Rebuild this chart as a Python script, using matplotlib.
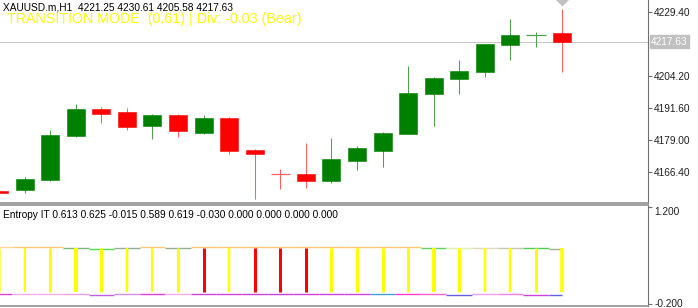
import numpy as np
import matplotlib
matplotlib.use("Agg")
import matplotlib.pyplot as plt

plt.rcParams['font.family'] = ['Liberation Sans', 'DejaVu Sans']

# ---- price data (H1 candles) ----
opens  = [4159.0, 4159.3, 4163.3, 4180.6, 4191.2, 4189.9, 4184.4, 4188.7, 4181.9, 4187.7,
          4175.1, 4165.6, 4165.5, 4163.0, 4170.6, 4174.7, 4181.5, 4197.2, 4202.9, 4205.8,
          4216.5, 4220.2, 4221.25]
highs  = [4159.6, 4164.3, 4182.9, 4193.2, 4192.1, 4191.7, 4189.2, 4189.1, 4188.8, 4188.2,
          4175.6, 4167.7, 4177.7, 4179.9, 4176.8, 4182.0, 4208.3, 4203.8, 4210.5, 4216.8,
          4226.6, 4221.4, 4230.61]
lows   = [4157.5, 4158.3, 4163.0, 4180.3, 4185.8, 4182.8, 4179.3, 4180.1, 4181.5, 4173.6,
          4155.7, 4159.8, 4160.2, 4162.0, 4167.1, 4168.4, 4181.3, 4184.6, 4197.2, 4203.9,
          4210.5, 4215.5, 4205.58]
closes = [4158.0, 4163.7, 4180.9, 4191.2, 4189.2, 4184.1, 4188.7, 4182.5, 4187.8, 4174.7,
          4173.4, 4165.5, 4163.0, 4171.4, 4175.9, 4181.8, 4197.5, 4203.5, 4206.1, 4216.7,
          4220.3, 4220.25, 4217.63]
last_price = 4217.63
price_ticks = [4229.40, 4204.20, 4191.60, 4179.00, 4166.40]

# ---- Entropy IT indicator ----
bar_top    = [0.615, 0.615, 0.615, 0.612, 0.612, 0.612, 0.615, 0.612, 0.615, 0.615,
              0.615, 0.615, 0.615, 0.615, 0.615, 0.615, 0.615, 0.612, 0.612, 0.612,
              0.61, 0.61, 0.61]
bar_bottom = [-0.03] * 23
bar_colors = ['#FFFF60', 'yellow', 'yellow', 'yellow', 'yellow', 'yellow', 'yellow', 'yellow',
              'red', 'yellow', 'red', 'red', 'red', 'yellow', 'yellow', 'yellow', 'yellow',
              'yellow', 'yellow', 'yellow', 'yellow', 'yellow', 'yellow']
bar_px = [3, 2, 3, 4, 3, 2.5, 2, 3, 3, 2.5, 3, 3, 3, 3, 3, 3, 3, 4, 3, 2.5, 2.5, 3, 3.5]
upper_vals = [0.62, 0.62, 0.62, 0.605, 0.60, 0.605, 0.62, 0.605, 0.62, 0.62,
              0.62, 0.62, 0.62, 0.62, 0.62, 0.62, 0.62, 0.605, 0.61, 0.61,
              0.61, 0.605, 0.60]
upper_colors = ['#FFD8A0', '#FFC878', '#FFC878', '#78B878', '#50E050', '#90B090', '#FFC878',
                '#90B090', '#FFC878', '#FFC878', '#FFC878', '#FFC878', '#FFC878', '#FFC878',
                '#FFC878', '#FFC878', '#FFC878', '#60D060', '#E0F0B0', '#E0D8B8', '#C0C8B0',
                '#50D050', '#A0B090']
lower_vals = [-0.05, -0.05, -0.05, -0.055, -0.07, -0.055, -0.05, -0.05, -0.05, -0.05,
              -0.05, -0.05, -0.05, -0.05, -0.05, -0.06, -0.05, -0.05, -0.065, -0.055,
              -0.06, -0.07, -0.075]
lower_colors = ['#E040E0', '#F0B0F0', '#F0B0F0', '#F0A0E0', '#C060E0', '#D090E0', '#E040E0',
                '#F0B0F0', '#D040E0', '#D040E0', '#D040E0', '#D040E0', '#D040E0', '#D040E0',
                '#D040E0', '#40A0E0', '#FF40D0', '#FF60D0', '#6060E0', '#F0A0F0', '#F080F0',
                '#D040E0', '#6060E0']

header = "XAUUSD.m,H1  4221.25 4230.61 4205.58 4217.63"
mode_text = "TRANSITION MODE  (0.61) | Div: -0.03 (Bear)"
ind_text = "Entropy IT 0.613 0.625 -0.015 0.589 0.619 -0.030 0.000 0.000 0.000 0.000"

W, H = 698, 308
fig = plt.figure(figsize=(W / 100, H / 100), dpi=100)
fig.patch.set_facecolor('white')

def box(l, t, r, b):
    return [l / W, 1 - b / H, (r - l) / W, (b - t) / H]

ax = fig.add_axes(box(0, 0, 648, 203))
ax2 = fig.add_axes(box(0, 205, 648, 306))

x = np.arange(len(opens))
xlim = (0.039, 25.38)
axis_col = '#707070'
lab_col = '#202020'

# candles
for i in x:
    o, h, l, c = opens[i], highs[i], lows[i], closes[i]
    up = c >= o
    body = '#008000' if up else '#FF0000'
    wick = '#50A050' if up else '#FF6060'
    ax.vlines(i, l, h, color=wick, lw=0.75, zorder=2)
    if abs(c - o) < 0.2:
        ax.hlines(o, i - 0.38, i + 0.38, color=wick, lw=0.9, zorder=3)
    else:
        ax.bar(i, abs(c - o), bottom=min(o, c), width=0.7, color=body,
               edgecolor=body, lw=0.4, zorder=3)

ax.axhline(last_price, color='#C8C8C8', lw=0.8, zorder=1)
ax.plot([x[-1]], [4234.6], marker='D', ms=6, color='#C0C0C0', zorder=4)

ax.set_xlim(*xlim)
ax.set_ylim(4154.2, 4234.1)
ax.set_yticks(price_ticks)
ax.set_yticklabels([f"{v:.2f}" for v in price_ticks])
ax.yaxis.tick_right()
ax.tick_params(axis='y', direction='out', length=3, width=0.8, color=axis_col,
               labelsize=7.3, labelcolor=lab_col, pad=1.5)
ax.set_xticks([])
for s in ['top', 'left']:
    ax.spines[s].set_visible(False)
ax.spines['right'].set_color(axis_col)
ax.spines['bottom'].set_color('#909090')
ax.spines['bottom'].set_linewidth(1.2)

ax.text(1.005, (last_price - 4154.2) / (4234.1 - 4154.2), f"{last_price:.2f}",
        transform=ax.transAxes, va='center', ha='left', fontsize=7.3, color='white',
        bbox=dict(boxstyle='square,pad=0.15', fc='#C0C0C0', ec='#C0C0C0'), clip_on=False)

ax.text(3 / 648, 1 - 7.5 / 203, header, transform=ax.transAxes, fontsize=7.3,
        color='black', va='center', ha='left')
ax.text(7 / 648, 1 - 18.5 / 203, mode_text, transform=ax.transAxes, fontsize=10.3,
        color='#FFFF00', va='center', ha='left')

# indicator pane
for i in x:
    ax2.vlines(i, bar_bottom[i], bar_top[i], color=bar_colors[i], lw=bar_px[i] * 0.72, zorder=3)
    x0, x1 = i - 0.5, min(i + 0.5, x[-1])
    ax2.hlines(upper_vals[i], x0, x1, color=upper_colors[i], lw=1.0, zorder=2)
    ax2.hlines(lower_vals[i], x0, x1, color=lower_colors[i], lw=1.0, zorder=2)

ax2.set_xlim(*xlim)
ax2.set_ylim(-0.229, 1.229)
ax2.set_yticks([1.2, -0.2])
ax2.set_yticklabels(['1.200', '-0.200'])
ax2.yaxis.tick_right()
ax2.tick_params(axis='y', direction='out', length=3, width=0.8, color=axis_col,
                labelsize=7.3, labelcolor=lab_col, pad=1.5)
lbls = ax2.get_yticklabels()
lbls[0].set_va('top')
lbls[1].set_va('center')
ax2.set_xticks([])
ax2.spines['left'].set_visible(False)
ax2.spines['right'].set_color(axis_col)
ax2.spines['top'].set_color('#909090')
ax2.spines['top'].set_linewidth(1.2)
ax2.spines['bottom'].set_color('#909090')
ax2.spines['bottom'].set_linewidth(1.2)
ax2.text(3 / 648, 1 - 9.5 / 101, ind_text, transform=ax2.transAxes, fontsize=7.3,
         color='black', va='center', ha='left')

fig.savefig('out.png', dpi=100, facecolor='white')
